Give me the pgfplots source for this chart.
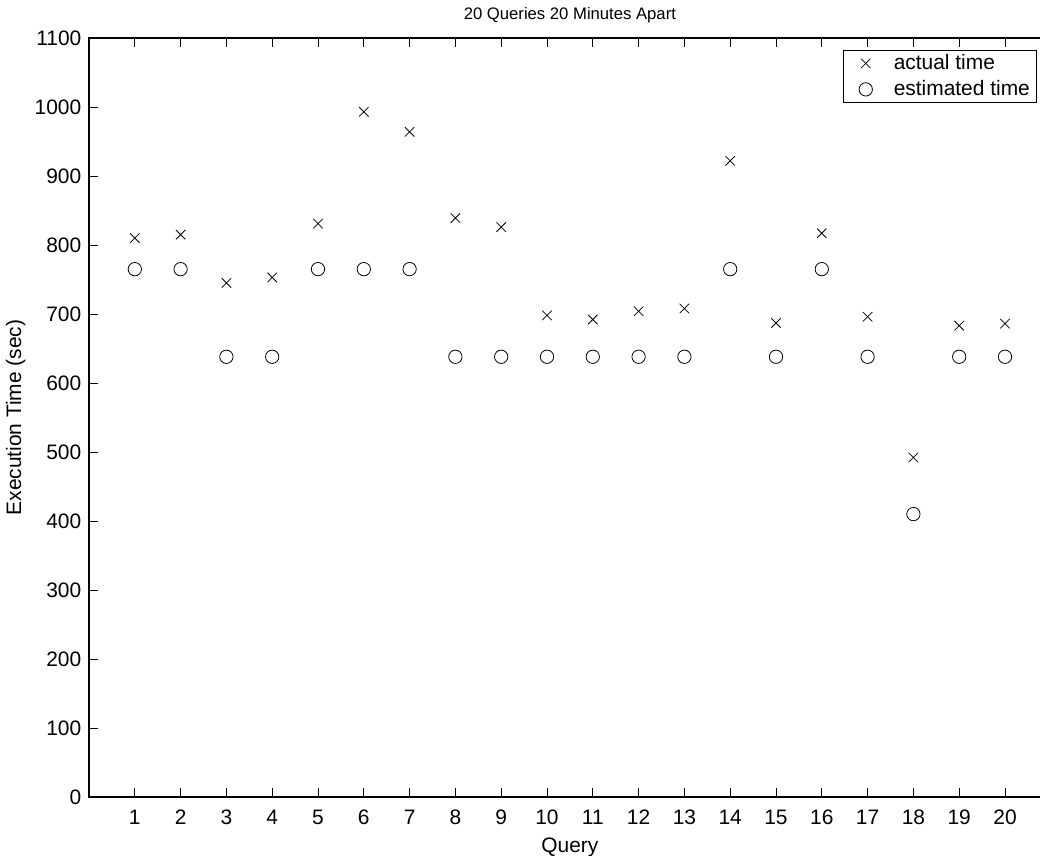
\documentclass[border=0pt]{standalone}
\usepackage{fontspec}
\setmainfont{Liberation Sans}
\usepackage{pgfplots}
\pgfplotsset{compat=1.18}
\begin{document}
\begin{tikzpicture}
\begin{axis}[name=ax, scale only axis, width=721.35pt, height=569.25pt,
  xmin=0, xmax=21, ymin=0, ymax=1100,
  xtick={1,...,20}, ytick={0,100,...,1100},
  tick align=inside, major tick length=6.75pt,
  every tick/.style={black, line width=0.5pt},
  axis line style={line width=0.9pt},
  /pgf/number format/assume math mode=true,
  /pgf/number format/1000 sep={},
  ticklabel style={font=\fontsize{15.7}{18}\selectfont},
  xticklabel style={yshift=-6.5pt},
  yticklabel style={xshift=-2.25pt},
  title={20 Queries 20 Minutes Apart},
  title style={font=\fontsize{12.5}{15}\selectfont, yshift=1.75pt},
  xlabel={Query}, ylabel={Execution Time (sec)},
  label style={font=\fontsize{15.7}{18}\selectfont},
  xlabel style={yshift=-3pt},
  legend image code/.code={\draw[#1] plot coordinates {(0pt,0pt)}; \path[draw=none,fill=none] (-12pt,-9.75pt) (21pt,9.75pt);},
  legend style={at={(1,1)}, anchor=north east, xshift=-10.4pt, yshift=-9pt,
    draw=black, line width=0.6pt, font=\fontsize{15.7}{18}\selectfont,
    inner xsep=5pt, inner ysep=0pt, row sep=0pt, column sep=0pt,
    nodes={inner sep=0pt, anchor=west}},
  legend cell align=left,
]
\addplot[only marks, mark=x, mark size=5pt, black, line width=0.6pt] coordinates {
(1,810) (2,815) (3,745) (4,753) (5,831) (6,993) (7,964) (8,839) (9,826) (10,698)
(11,692) (12,704) (13,708) (14,922) (15,687) (16,817) (17,696) (18,492) (19,683) (20,686)};
\addlegendentry{actual time}
\addplot[only marks, mark=o, mark size=5pt, black, line width=0.6pt] coordinates {
(1,765) (2,765) (3,638) (4,638) (5,765) (6,765) (7,765) (8,638) (9,638) (10,638)
(11,638) (12,638) (13,638) (14,765) (15,638) (16,765) (17,638) (18,410) (19,638) (20,638)};
\addlegendentry{estimated time}
\end{axis}
\pgfresetboundingbox
\path[use as bounding box] ([xshift=-66.75pt,yshift=-44.25pt]ax.south west) rectangle ++(780pt,642pt);
\end{tikzpicture}
\end{document}
